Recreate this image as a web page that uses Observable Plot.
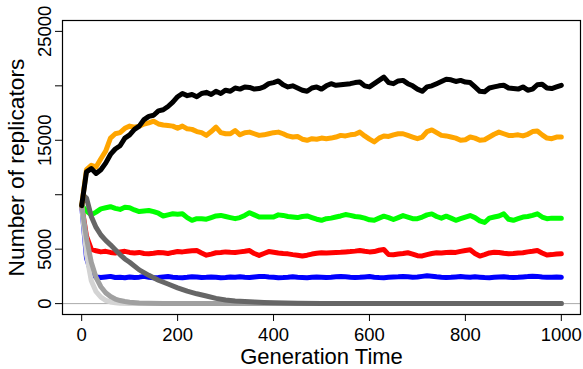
<!DOCTYPE html>
<html>
<head>
<meta charset="utf-8">
<script src="https://cdn.jsdelivr.net/npm/d3@7"></script>
<script src="https://cdn.jsdelivr.net/npm/@observablehq/plot@0.6"></script>
<style>
  html, body { margin: 0; padding: 0; background: #fff; }
  #chart svg { display: block; }
</style>
</head>
<body>
<div id="chart"></div>
<script>
// Generation axis for the noisy series (every 10 generations)
const gens = d3.range(0, 1001, 10);

const blackVals = [9000,12100,12400,11950,12300,12900,13700,14200,14500,15200,
15500,16000,16300,16900,17200,17300,17700,17800,18100,18500,
19000,19300,19100,19200,19000,19300,19400,19200,19500,19300,
19600,19500,19800,19700,19900,19850,19700,19750,19900,20200,
20300,20450,20100,19900,20000,19800,19600,19500,19800,19900,
19700,20000,20200,20050,20100,20150,20200,20300,20350,20000,
19900,20200,20500,20800,20300,20200,20450,20500,20200,20000,
19700,19500,19900,20000,20200,20400,20600,20550,20400,20500,
20350,20300,19900,19500,19450,19800,19900,20000,20050,19800,
19750,19700,19900,19600,19700,20100,20150,19800,19750,19900,20050];

const orangeVals = [9000,12300,12700,12550,13300,14000,15200,15600,15700,16100,
16300,16200,16300,16500,16600,16750,16500,16400,16350,16300,
16100,16300,16050,16000,15800,15700,15450,15800,16200,15700,
15600,15600,15900,15500,15700,15750,15600,15450,15500,15600,
15700,15750,15600,15400,15300,15350,15100,15000,15150,15100,
15200,15150,15200,15300,15450,15400,15500,15550,15750,15400,
15100,14850,15200,15400,15350,15500,15600,15600,15450,15300,
15150,15300,15800,15950,15700,15450,15400,15300,15200,15000,
15050,15300,15200,15000,15050,15300,15550,15750,15600,15450,
15450,15500,15400,15550,15800,15850,15500,15200,15150,15300,15300];

const greenVals = [9000,8500,8150,8400,8700,8800,8900,8750,8650,8850,
8800,8600,8450,8500,8550,8450,8300,8050,8150,8250,
8200,8250,7900,7650,7800,7800,7750,7900,8050,8100,
8000,7900,7800,7900,8100,8350,8150,7950,7950,7950,
7950,8150,8100,8000,7950,7900,8000,8050,7900,7750,
7650,7800,7850,7950,8050,8180,8100,8000,7950,7850,
7700,7650,7850,8030,7900,7720,7900,8080,7950,7800,
7800,7950,8150,8240,8000,7850,8030,7850,7650,7800,
7950,8090,7900,7600,7450,7850,7950,8050,8240,7750,
7650,7800,7950,8000,8100,8250,7950,7800,7850,7850,7850];

const redVals = [9000,6200,5000,4850,4750,4800,4700,4650,4750,4800,
4700,4650,4700,4600,4580,4620,4700,4670,4600,4700,
4780,4750,4800,4850,4870,4650,4450,4550,4670,4700,
4750,4720,4700,4750,4800,4870,4600,4430,4600,4780,
4720,4650,4600,4570,4500,4450,4380,4450,4550,4620,
4670,4650,4680,4700,4720,4750,4780,4820,4870,4800,
4750,4780,4900,4970,4500,4480,4550,4600,4670,4550,
4400,4380,4500,4600,4670,4650,4700,4720,4700,4800,
4880,4940,4600,4370,4500,4650,4720,4700,4620,4570,
4600,4650,4670,4750,4800,4870,4650,4460,4500,4550,4570];

const blueVals = [9000,4200,2800,2450,2400,2450,2500,2400,2420,2380,
2450,2400,2430,2500,2420,2380,2400,2450,2480,2430,
2400,2380,2420,2470,2450,2400,2420,2450,2430,2380,
2400,2450,2420,2470,2430,2400,2450,2480,2500,2450,
2420,2380,2400,2430,2470,2420,2400,2380,2420,2450,
2430,2400,2420,2460,2500,2470,2430,2400,2420,2450,
2480,2430,2400,2380,2420,2450,2470,2500,2470,2430,
2450,2500,2550,2520,2470,2430,2400,2420,2450,2480,
2450,2420,2460,2430,2400,2380,2420,2450,2470,2430,
2400,2420,2450,2480,2520,2500,2450,2420,2430,2450,2420];

// Decaying (gray) series, sampled at their own generations
const darkGrayGens = [0,5,10,20,30,40,50,60,70,80,90,100,120,140,160,180,200,220,240,260,280,300,320,340,360,380,400,450,500,600,700,800,900,1000];
const darkGrayVals = [9000,9900,9700,8000,7000,6300,5800,5400,4950,4500,4100,3800,3100,2600,2150,1800,1450,1150,900,700,480,330,250,190,140,100,75,40,20,8,0,0,0,0];
const midGrayGens = [0,10,20,30,40,50,60,70,80,90,100,120,140,170,220,300,400,600,800,1000];
const midGrayVals = [9000,6000,3800,2400,1550,1000,650,420,280,190,130,60,30,10,0,0,0,0,0,0];
const lightGrayGens = [0,10,20,30,40,50,60,70,80,100,150,300,600,1000];
const lightGrayVals = [9000,4500,2100,1100,600,300,150,80,40,10,0,0,0,0];

const xTicks = [0, 200, 400, 600, 800, 1000];
const yTicks = [0, 5000, 10000, 15000, 20000, 25000];
// R drops overlapping labels: only these y ticks carry text
const yTickLabels = [0, 5000, 15000, 25000];
const xLabel = "Generation Time";
const yLabel = "Number of replicators";

const series = (xs, ys) => xs.map((g, i) => ({g, v: ys[i]}));
const black = series(gens, blackVals);
const orange = series(gens, orangeVals);
const green = series(gens, greenVals);
const red = series(gens, redVals);
const blue = series(gens, blueVals);
const darkGray = series(darkGrayGens, darkGrayVals);
const midGray = series(midGrayGens, midGrayVals);
const lightGray = series(lightGrayGens, lightGrayVals);

const lw = 5;
const lineOpts = (stroke) => ({x: "g", y: "v", stroke, strokeWidth: lw, strokeLinejoin: "round", strokeLinecap: "round"});

const chart = Plot.plot({
  width: 583,
  height: 369,
  marginLeft: 62,
  marginRight: 3,
  marginTop: 20,
  marginBottom: 55,
  style: {fontFamily: "'Liberation Sans', Arial, sans-serif", background: "#fff", color: "#000"},
  x: {domain: [-40, 1040]},
  y: {domain: [-1000, 26000]},
  marks: [
    Plot.ruleY([0], {stroke: "#aaaaaa", strokeWidth: 1}),
    Plot.line(blue, lineOpts("#0000ff")),
    Plot.line(red, lineOpts("#ff0000")),
    Plot.line(green, lineOpts("#00ff00")),
    Plot.line(lightGray, lineOpts("#d3d3d3")),
    Plot.line(midGray, lineOpts("#a0a0a0")),
    Plot.line(darkGray, lineOpts("#666666")),
    Plot.line(orange, lineOpts("#ffa500")),
    Plot.line(black, lineOpts("#000000")),
    Plot.frame({stroke: "#000", strokeWidth: 1.2}),
    Plot.axisX({ticks: xTicks, tickSize: 7, tickPadding: 6, fontSize: 18.5, label: null, tickFormat: d => String(d)}),
    Plot.axisY({ticks: yTicks, tickSize: 7, tickPadding: 5, tickRotate: -90, fontSize: 18.5, label: null,
      tickFormat: d => yTickLabels.includes(d) ? String(d) : ""}),
    Plot.text([xLabel], {frameAnchor: "bottom", dy: 49, fontSize: 22, text: d => d}),
    Plot.text([yLabel], {frameAnchor: "left", textAnchor: "middle", dx: -46, rotate: -90, fontSize: 22.8, text: d => d})
  ]
});
document.getElementById("chart").appendChild(chart);
</script>
</body>
</html>
